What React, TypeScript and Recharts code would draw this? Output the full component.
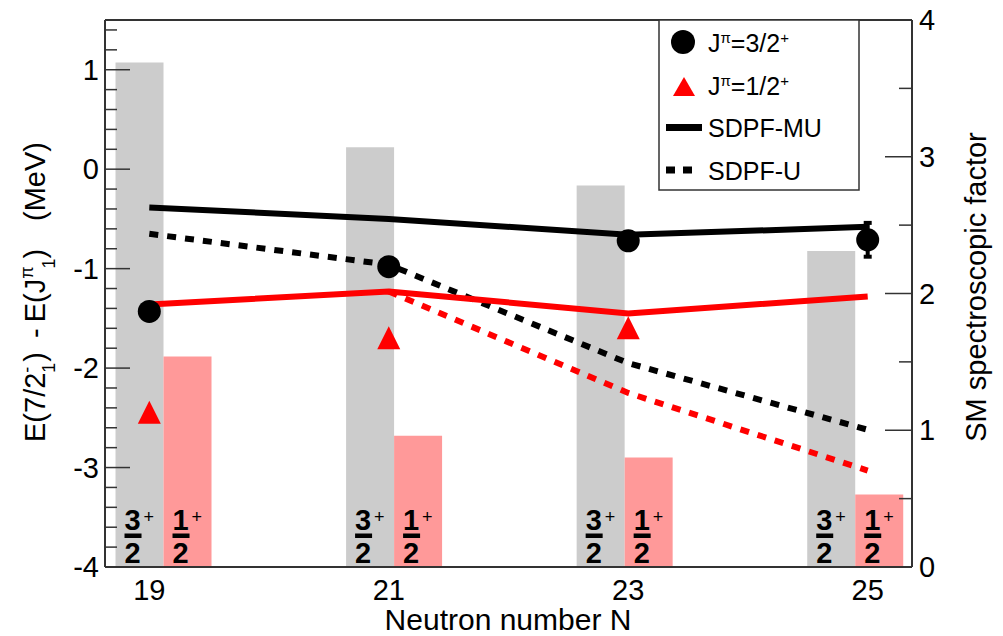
import React from 'react';
import {
  ComposedChart, Bar, Line, Scatter, XAxis, YAxis, ReferenceLine,
  ErrorBar, LabelList, Legend,
} from 'recharts';

// neutron number of each isotope
const neutronN = [19, 21, 23, 25];

// shell-model spectroscopic factors (right axis)
const sf32 = [3.69, 3.07, 2.79, 2.31];
const sf12 = [1.54, 0.96, 0.8, 0.53];

// E(7/2-) - E(J) in MeV, shell-model calculations
const sdpfMu32 = [-0.385, -0.5, -0.66, -0.58];
const sdpfU32 = [-0.65, -0.96, -1.95, -2.62];
const sdpfMu12 = [-1.36, -1.23, -1.45, -1.28];
const sdpfU12 = [null, -1.23, -2.25, -3.03];

// measured levels
const exp32 = [-1.43, -0.98, -0.72, -0.71];
const exp32Err = [null, null, null, 0.17];
const exp12 = [-2.45, -1.7, -1.6, null];

const xTicks = [19, 21, 23, 25];
const leftTicks = [-4, -3, -2, -1, 0, 1];
const rightTicks = [0, 1, 2, 3, 4];

const FONT = '"Liberation Sans", Arial, Helvetica, sans-serif';
const FRAME = '#333';

const rows = neutronN.map((n, i) => ({
  N: n,
  sf32: sf32[i],
  sf12: sf12[i],
  mu32: sdpfMu32[i],
  u32: sdpfU32[i],
  mu12: sdpfMu12[i],
  u12: sdpfU12[i],
  exp32: exp32[i],
  err32: exp32Err[i],
  exp12: exp12[i],
}));
const circlePoints = rows.filter((r) => r.exp32 != null);
const trianglePoints = rows.filter((r) => r.exp12 != null);

// major ticks plus the unlabelled minor ones in between
const withMinors = (start: number, step: number, end: number) => {
  const out: number[] = [];
  for (let v = start; v <= end + 1e-9; v += step) out.push(Math.round(v * 100) / 100);
  return out;
};
const leftAllTicks = withMinors(-4, 0.2, 1.45);
const rightAllTicks = withMinors(0, 0.5, 4);

const LeftTick = (props: any) => {
  const { x, y, payload } = props;
  const v = payload.value;
  const major = leftTicks.includes(v);
  return (
    <g>
      <line x1={x} x2={x + (major ? 25 : 12)} y1={y} y2={y} stroke={FRAME} strokeWidth={1.5} />
      {major && (
        <text x={x - 6} y={y + 10} textAnchor="end" fontSize={29} fontFamily={FONT} fill="#000">
          {v}
        </text>
      )}
    </g>
  );
};

const RightTick = (props: any) => {
  const { x, y, payload } = props;
  const v = payload.value;
  const major = rightTicks.includes(v);
  return (
    <g>
      <line x1={x} x2={x - (major ? 27 : 13)} y1={y} y2={y} stroke={FRAME} strokeWidth={1.5} />
      {major && (
        <text x={x + 7} y={y + 10} textAnchor="start" fontSize={29} fontFamily={FONT} fill="#000">
          {v}
        </text>
      )}
    </g>
  );
};

const BottomTick = (props: any) => {
  const { x, y, payload } = props;
  return (
    <text x={x} y={y + 33} textAnchor="middle" fontSize={29} fontFamily={FONT} fill="#000">
      {payload.value}
    </text>
  );
};

// "n/2 +" written at the foot of each bar
const fractionLabel = (num: string) => (props: any) => {
  const { x, y, width, height } = props;
  if (width == null) return null;
  const left = x + 9;
  const bottom = y + height;
  return (
    <g fontFamily={FONT} fill="#000">
      <text x={left} y={bottom - 37} fontSize={29} fontWeight="bold">
        <tspan>{num}</tspan>
        <tspan x={left} dy={33}>2</tspan>
      </text>
      <rect x={left} y={bottom - 33.5} width={17} height={4.5} />
      <text x={left + 19} y={bottom - 44} fontSize={18}>+</text>
    </g>
  );
};

const CircleDot = (props: any) => <circle cx={props.cx} cy={props.cy} r={11.5} fill="#000" />;
const TriangleDot = (props: any) => {
  const { cx, cy } = props;
  return <polygon points={`${cx},${cy - 12} ${cx - 11.5},${cy + 11} ${cx + 11.5},${cy + 11}`} fill="#ff0000" />;
};

const renderLegend = () => (
  <svg width={202} height={172} style={{ display: 'block' }}>
    <rect x={1} y={1} width={200} height={170} fill="#fff" stroke={FRAME} strokeWidth={1.5} />
    <g fontFamily={FONT} fontSize={25} fill="#000">
      <circle cx={25} cy={23} r={12} fill="#000" />
      <text x={50} y={33}>
        J<tspan fontSize={15} dy={-9}>π</tspan>
        <tspan dy={9}>=3/2</tspan>
        <tspan fontSize={15} dy={-9}>+</tspan>
      </text>
      <polygon points="26,58 15,77 37,77" fill="#ff0000" />
      <text x={50} y={76}>
        J<tspan fontSize={15} dy={-9}>π</tspan>
        <tspan dy={9}>=1/2</tspan>
        <tspan fontSize={15} dy={-9}>+</tspan>
      </text>
      <line x1={8} x2={44} y1={108.5} y2={108.5} stroke="#000" strokeWidth={7} />
      <text x={50} y={118}>SDPF-MU</text>
      <line x1={8} x2={36} y1={151} y2={151} stroke="#000" strokeWidth={7} strokeDasharray="9 8" />
      <text x={50} y={161}>SDPF-U</text>
    </g>
  </svg>
);

const LeftTitle = () => (
  <g fontFamily={FONT} fill="#000">
    <text transform="translate(45,442) rotate(-90)" fontSize={29}>
      E(7/2
      <tspan fontSize={18} dy={-12}>-</tspan>
      <tspan fontSize={18} dx={-6} dy={22}>1</tspan>
      <tspan dx={1} dy={-10}>)</tspan>
      <tspan dx={14}>-</tspan>
      <tspan dx={6}>E(J</tspan>
      <tspan fontSize={18} dy={-12}>π</tspan>
      <tspan fontSize={18} dx={-2} dy={22}>1</tspan>
      <tspan dy={-10}>)</tspan>
    </text>
    <text transform="translate(45,142) rotate(-90)" fontSize={29} textAnchor="end">(MeV)</text>
  </g>
);

const App = () => (
  <div style={{ position: 'absolute', left: 0, top: 0, width: 1003, height: 636, background: '#fff' }}>
    <ComposedChart
      width={1003}
      height={636}
      data={rows}
      margin={{ top: 20, right: 0, bottom: 0, left: 0 }}
      barGap={0}
    >
      <XAxis
        xAxisId="n"
        dataKey="N"
        type="number"
        domain={[18.63, 25.37]}
        allowDataOverflow
        ticks={xTicks}
        interval={0}
        height={69}
        tickLine={false}
        tickSize={0}
        tickMargin={0}
        axisLine={{ stroke: FRAME, strokeWidth: 2 }}
        tick={<BottomTick />}
        label={{
          content: () => (
            <text x={508} y={630} textAnchor="middle" fontSize={30} fontFamily={FONT} fill="#000">
              Neutron number N
            </text>
          ),
        }}
      />
      {/* the bar histogram sits on its own, slightly narrower N scale */}
      <XAxis
        xAxisId="bars"
        orientation="top"
        dataKey="N"
        type="number"
        domain={[18.49, 25.49]}
        allowDataOverflow
        height={0}
        hide
      />
      <YAxis
        yAxisId="left"
        type="number"
        domain={[-4, 1.5]}
        allowDataOverflow
        ticks={leftAllTicks}
        interval={0}
        width={105}
        tickLine={false}
        tickSize={0}
        tickMargin={0}
        axisLine={{ stroke: FRAME, strokeWidth: 2 }}
        tick={<LeftTick />}
        label={{ content: () => <LeftTitle /> }}
      />
      <YAxis
        yAxisId="right"
        orientation="right"
        type="number"
        domain={[0, 4]}
        allowDataOverflow
        ticks={rightAllTicks}
        interval={0}
        width={91}
        tickLine={false}
        tickSize={0}
        tickMargin={0}
        axisLine={{ stroke: FRAME, strokeWidth: 2 }}
        tick={<RightTick />}
        label={{
          content: () => (
            <text
              transform="translate(986,287) rotate(-90)"
              textAnchor="middle"
              fontSize={29}
              fontFamily={FONT}
              fill="#000"
            >
              SM spectroscopic factor
            </text>
          ),
        }}
      />
      <ReferenceLine xAxisId="n" yAxisId="left" y={1.5} stroke={FRAME} strokeWidth={2} />

      <Bar xAxisId="bars" yAxisId="right" dataKey="sf32" fill="#cccccc" barSize={48} isAnimationActive={false}>
        <LabelList dataKey="sf32" content={fractionLabel('3')} />
      </Bar>
      <Bar xAxisId="bars" yAxisId="right" dataKey="sf12" fill="#ff9999" barSize={48} isAnimationActive={false}>
        <LabelList dataKey="sf12" content={fractionLabel('1')} />
      </Bar>

      <Scatter
        xAxisId="n"
        yAxisId="left"
        data={circlePoints}
        dataKey="exp32"
        shape={<CircleDot />}
        isAnimationActive={false}
      >
        <ErrorBar dataKey="err32" direction="y" width={4} strokeWidth={4} stroke="#000" />
      </Scatter>
      <Scatter
        xAxisId="n"
        yAxisId="left"
        data={trianglePoints}
        dataKey="exp12"
        shape={<TriangleDot />}
        isAnimationActive={false}
      />

      <Line xAxisId="n" yAxisId="left" type="linear" dataKey="mu32" stroke="#000" strokeWidth={6} dot={false} isAnimationActive={false} />
      <Line xAxisId="n" yAxisId="left" type="linear" dataKey="u32" stroke="#000" strokeWidth={6} strokeDasharray="9 9" dot={false} isAnimationActive={false} />
      <Line xAxisId="n" yAxisId="left" type="linear" dataKey="mu12" stroke="#ff0000" strokeWidth={6} dot={false} isAnimationActive={false} />
      <Line xAxisId="n" yAxisId="left" type="linear" dataKey="u12" stroke="#ff0000" strokeWidth={6} strokeDasharray="9 9" dot={false} isAnimationActive={false} />

      <Legend
        layout="horizontal"
        verticalAlign="middle"
        align="center"
        content={renderLegend}
        wrapperStyle={{ left: 658, top: 19, width: 202, height: 172 }}
      />
    </ComposedChart>
  </div>
);

export default App;
